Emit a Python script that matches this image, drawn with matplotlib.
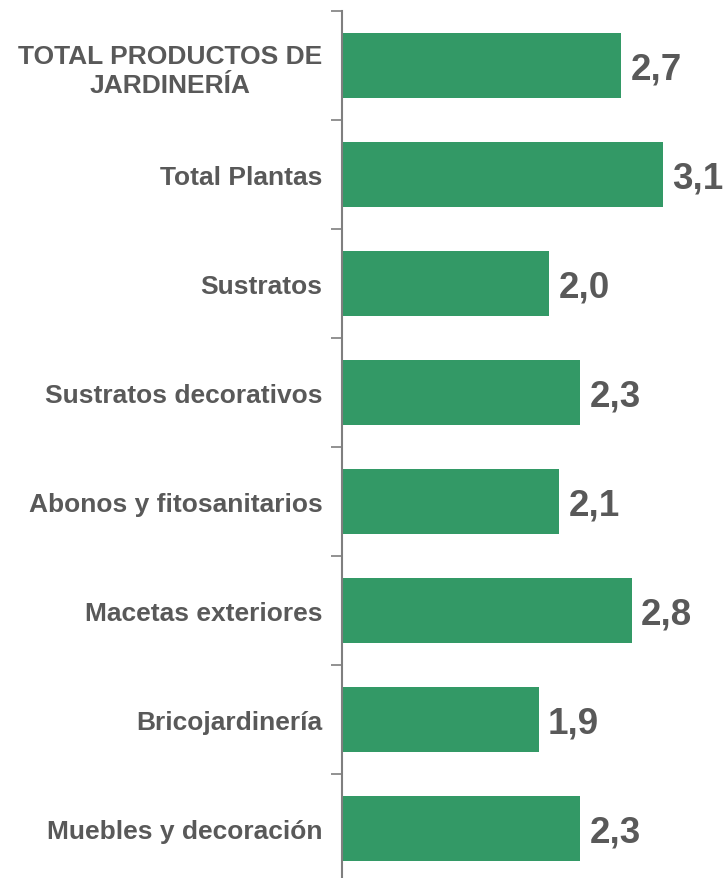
import matplotlib.pyplot as plt

# datos
categorias = ["TOTAL PRODUCTOS DE\nJARDINERÍA", "Total Plantas", "Sustratos",
              "Sustratos decorativos", "Abonos y fitosanitarios",
              "Macetas exteriores", "Bricojardinería", "Muebles y decoración"]
valores = [2.7, 3.1, 2.0, 2.3, 2.1, 2.8, 1.9, 2.3]
etiquetas = ["2,7", "3,1", "2,0", "2,3", "2,1", "2,8", "1,9", "2,3"]

verde = "#339966"
gris = "#595959"
plt.rcParams['font.family'] = ['Liberation Sans', 'DejaVu Sans']

fig = plt.figure(figsize=(7.23, 8.79), dpi=100)
ax = fig.add_axes([342 / 723, -5 / 879, 381 / 723, 872 / 879])

pos = list(range(len(categorias)))
ax.barh(pos, valores, height=0.59, color=verde)
ax.set_ylim(len(categorias) - 0.5, -0.5)
ax.set_xlim(0, 381 / 103.5)

for p, v, t in zip(pos, valores, etiquetas):
    ax.text(v + 0.09, p + 0.03, t, va="center", ha="left", fontsize=26.5,
            fontweight="bold", color=gris)

ax.set_yticks(pos)
ax.set_yticklabels(categorias, fontsize=19, fontweight="bold", color=gris,
                   linespacing=1.25)
ax.tick_params(axis="y", which="major", length=0, pad=14)
ax.set_yticks([p - 0.5 for p in pos] + [len(pos) - 0.5], minor=True)
ax.tick_params(axis="y", which="minor", length=8, width=1.2, color="#7f7f7f")
for lbl in ax.get_yticklabels():
    lbl.set_horizontalalignment("right")
    lbl.set_multialignment("center")

ax.set_xticks([])
for s in ["top", "right", "bottom"]:
    ax.spines[s].set_visible(False)
ax.spines["left"].set_color("#7f7f7f")
ax.spines["left"].set_linewidth(1.5)

plt.savefig("out.png", dpi=100)
